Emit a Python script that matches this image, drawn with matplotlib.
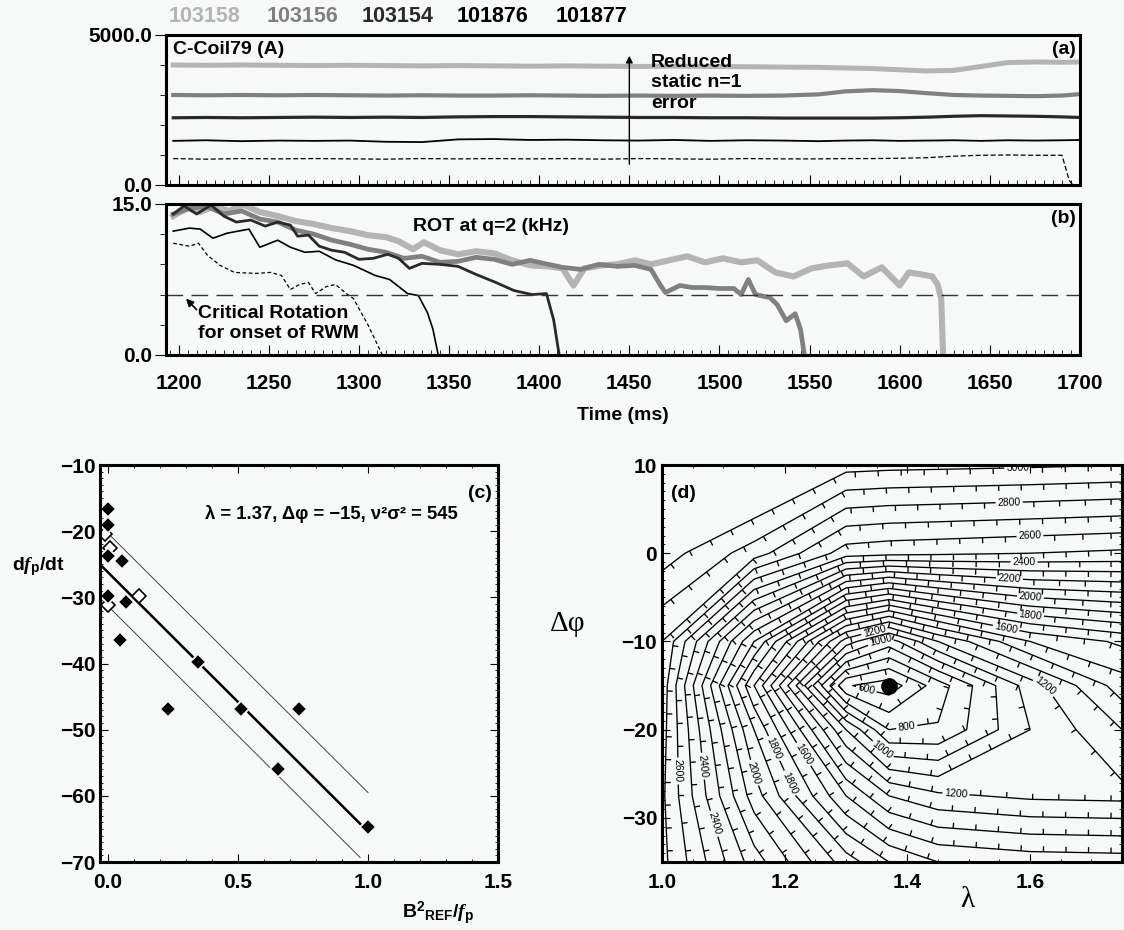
import matplotlib
matplotlib.use('Agg')
import matplotlib.pyplot as plt
import matplotlib.patheffects as pe
from matplotlib.ticker import MultipleLocator, FixedLocator
import numpy as np

plt.rcParams['font.family'] = ['Liberation Sans', 'DejaVu Sans']
plt.rcParams['font.weight'] = 'bold'
plt.rcParams['axes.labelweight'] = 'bold'
plt.rcParams['axes.unicode_minus'] = True
plt.rcParams['mathtext.fontset'] = 'custom'
plt.rcParams['mathtext.rm'] = 'Liberation Sans:bold'
plt.rcParams['mathtext.bf'] = 'Liberation Sans:bold'
plt.rcParams['mathtext.it'] = 'Liberation Serif:italic:bold'

# shot numbers in the header above panel (a)
shots = ['103158', '103156', '103154', '101876', '101877']

# (a) C-coil current (A) vs time (ms)
coil_t = [1197, 1215, 1235, 1255, 1275, 1295, 1315, 1335, 1355, 1375, 1395, 1415,
          1435, 1455, 1475, 1495, 1515, 1535, 1555, 1570, 1585, 1600, 1615, 1630,
          1645, 1660, 1675, 1690, 1700]
coil_103158 = [4000, 3990, 4000, 3990, 3980, 3990, 3980, 3970, 3980, 3970, 3960, 3970,
               3960, 3950, 3960, 3950, 3940, 3930, 3920, 3900, 3880, 3840, 3800, 3820,
               3950, 4080, 4100, 4090, 4100]
coil_103156 = [3000, 2990, 3000, 2990, 3000, 2990, 2980, 2990, 2980, 2980, 2990, 2980,
               2970, 2980, 2970, 2980, 2970, 2980, 3020, 3120, 3160, 3130, 3060, 3000,
               2980, 2970, 2960, 2980, 3030]
coil_103154 = [2240, 2250, 2240, 2250, 2260, 2250, 2260, 2250, 2270, 2280, 2280, 2270,
               2260, 2250, 2250, 2240, 2240, 2230, 2230, 2230, 2230, 2240, 2260, 2290,
               2310, 2300, 2290, 2270, 2250]
coil_101876 = [1470, 1490, 1460, 1480, 1470, 1480, 1440, 1430, 1520, 1530, 1500, 1510,
               1490, 1480, 1500, 1470, 1490, 1480, 1460, 1480, 1490, 1470, 1480, 1490,
               1470, 1490, 1480, 1490, 1500]
coil_t_101877 = [1197, 1215, 1235, 1255, 1275, 1295, 1315, 1335, 1355, 1375, 1395, 1415,
                 1435, 1455, 1475, 1495, 1515, 1535, 1555, 1570, 1585, 1600, 1615, 1630,
                 1645, 1660, 1675, 1690, 1694, 1696]
coil_101877 = [880, 860, 880, 870, 880, 870, 860, 880, 870, 880, 870, 880,
               860, 880, 870, 860, 880, 870, 870, 880, 880, 890, 910, 960,
               990, 1000, 990, 990, 150, 0]

# (b) rotation at q=2 (kHz) vs time (ms)
rot_t_103158 = [1197, 1205, 1212, 1220, 1228, 1236, 1245, 1255, 1265, 1275, 1285, 1295,
                1305, 1315, 1322, 1330, 1336, 1345, 1355, 1365, 1375, 1385, 1395, 1405,
                1413, 1419, 1425, 1435, 1443, 1453, 1462, 1472, 1482, 1492, 1502, 1512,
                1521, 1531, 1541, 1551, 1561, 1571, 1580, 1590, 1600, 1605, 1612, 1618,
                1621, 1623, 1624]
rot_103158 = [13.8, 14.6, 14.2, 14.8, 14.3, 14.9, 14.2, 13.8, 13.3, 13.0, 12.6, 12.3,
              11.9, 11.7, 11.3, 10.5, 11.2, 10.4, 10.0, 10.3, 10.1, 9.4, 8.9, 8.8,
              8.6, 6.9, 8.6, 8.9, 9.0, 9.4, 9.0, 9.4, 9.8, 9.2, 9.6, 9.2,
              9.4, 8.2, 7.8, 8.6, 8.9, 9.1, 7.8, 8.7, 6.9, 8.2, 8.0, 7.8,
              7.0, 5.6, 0.1]
rot_t_103156 = [1197, 1205, 1215, 1225, 1235, 1245, 1255, 1265, 1275, 1285, 1295, 1305,
                1315, 1325, 1335, 1345, 1355, 1365, 1375, 1385, 1395, 1405, 1413, 1423,
                1433, 1443, 1453, 1462, 1467, 1470, 1478, 1485, 1492, 1500, 1508, 1512,
                1516, 1520, 1528, 1532, 1537, 1542, 1545, 1547]
rot_103156 = [14.0, 14.5, 14.8, 14.0, 14.3, 13.5, 13.2, 12.4, 12.0, 11.4, 11.0, 10.5,
              10.2, 9.6, 9.8, 9.2, 9.3, 9.7, 9.5, 9.0, 9.4, 9.0, 8.7, 8.5,
              9.0, 8.8, 8.9, 8.5, 7.0, 6.2, 6.9, 6.7, 6.7, 6.6, 6.6, 6.0,
              7.5, 6.0, 5.7, 5.0, 3.4, 4.1, 2.5, 0.1]
rot_t_103154 = [1197, 1203, 1210, 1218, 1225, 1232, 1240, 1248, 1255, 1262, 1266, 1272,
                1278, 1285, 1292, 1300, 1308, 1316, 1322, 1328, 1335, 1345, 1355, 1365,
                1376, 1386, 1396, 1404, 1408, 1411]
rot_103154 = [14.0, 14.8, 14.0, 14.9, 13.8, 13.2, 13.4, 12.8, 13.2, 12.9, 11.8, 11.9,
              10.8, 10.4, 10.2, 9.5, 9.6, 10.0, 9.6, 8.6, 9.1, 9.0, 8.8, 8.0,
              7.2, 6.4, 6.0, 6.1, 3.5, 0.1]
rot_t_101876 = [1197, 1206, 1212, 1219, 1227, 1239, 1245, 1255, 1262, 1270, 1278, 1287,
                1297, 1309, 1317, 1327, 1333, 1338, 1341, 1344]
rot_101876 = [12.3, 12.6, 12.5, 11.6, 12.1, 12.5, 10.7, 11.4, 10.7, 10.2, 10.3, 9.45,
              8.9, 7.9, 7.5, 6.1, 5.9, 4.2, 2.6, 0.0]
rot_t_101877 = [1197, 1206, 1211, 1216, 1223, 1231, 1243, 1251, 1257, 1262, 1267, 1272,
                1276, 1282, 1287, 1293, 1297, 1301, 1305, 1309, 1313]
rot_101877 = [11.1, 10.8, 11.1, 9.9, 8.9, 8.2, 8.1, 8.2, 7.9, 6.5, 7.0, 7.2,
              6.1, 6.8, 7.0, 6.1, 5.6, 4.3, 3.0, 1.5, 0.0]
critical_rot = 6.0

# (c) dfp/dt vs B^2_REF/fp
bsq_filled = [0.0, 0.0, 0.0, 0.056, 0.0, 0.071, 0.048, 0.345, 0.23, 0.51, 0.733, 0.654, 1.0]
dfdt_filled = [-16.6, -19.1, -23.7, -24.5, -29.8, -30.7, -36.4, -39.7, -46.8, -46.8, -46.8, -56.0, -64.7]
bsq_open = [-0.01, 0.01, 0.12, 0.0]
dfdt_open = [-20.5, -22.5, -29.8, -31.2]
fit_slope = -39.2
fit_offsets = [-26.2, -20.3, -31.3]   # best fit, upper and lower bound
fit_x_end = [0.98, 1.0, 0.97]

# (d) chi^2 surface over (lambda, delta phi)
lam_nodes = [1.0, 1.15, 1.3, 1.37, 1.45, 1.6, 1.75]
dphi_nodes = [-35, -27.5, -20, -15, -10, 0, 10]
chi2 = [
    [2730, 2250, 1850, 1700, 1600, 1560, 1550],
    [2720, 2050, 1500, 1300, 1220, 1180, 1170],
    [2740, 1900, 1100, 800, 810, 1100, 1300],
    [2760, 1700, 610, 545, 750, 1150, 1450],
    [2800, 2000, 1150, 950, 1200, 1500, 1620],
    [3050, 2850, 2550, 2530, 2520, 2500, 2480],
    [3400, 3230, 3040, 3030, 3025, 3015, 3000],
]
chi2_levels = list(range(600, 3100, 100))
best_fit = (1.37, -15)
label_levels = [600, 800, 1000, 1200, 1400, 1600, 1800, 2000, 2200, 2400, 2600, 2800, 3000]
label_pos = [(1.33, -16.2), (1.40, -20.2), (1.36, -22.3), (1.48, -26.4), (1.64, -14.2),
             (1.24, -22.4), (1.19, -21.9), (1.20, -26.3), (1.138, -25.1), (1.086, -24.0),
             (1.078, -30.8), (1.01, -24.7),
             (1.356, -9.8), (1.345, -8.5), (1.56, -8.8), (1.6, -7.6), (1.6, -5.7),
             (1.566, -3.2), (1.59, -1.3), (1.6, 1.5), (1.566, 5.3), (1.58, 9.5)]

bg = '#f7f8f8'
shot_colors = ['#b4b4b4', '#808080', '#2a2a2a', 'black', 'black']
fs = 14
fs_tick = 15

fig = plt.figure(figsize=(11.24, 9.3), dpi=100, facecolor=bg)
ax_a = fig.add_axes([0.1477, 0.8011, 0.8132, 0.1613])
ax_b = fig.add_axes([0.1477, 0.6183, 0.8132, 0.1624])
ax_c = fig.add_axes([0.0890, 0.0731, 0.3541, 0.4269])
ax_d = fig.add_axes([0.5890, 0.0731, 0.4093, 0.4269])

for ax in [ax_a, ax_b, ax_c, ax_d]:
    ax.set_facecolor(bg)
    for s in ax.spines.values():
        s.set_linewidth(2.2)
    ax.tick_params(labelsize=fs_tick)

# header with shot numbers
for name, col, xp in zip(shots, shot_colors, [205, 302, 398, 493, 592]):
    fig.text(xp / 1124, 1 - 16 / 930, name, color=col, fontsize=15.5, ha='center', va='center')

# ---- (a)
ax_a.plot(coil_t, coil_103158, color=shot_colors[0], lw=3.6)
ax_a.plot(coil_t, coil_103156, color=shot_colors[1], lw=3.0)
ax_a.plot(coil_t, coil_103154, color=shot_colors[2], lw=2.3)
ax_a.plot(coil_t, coil_101876, color='black', lw=1.3)
ax_a.plot(coil_t_101877, coil_101877, color='black', lw=0.9, ls=(0, (4, 2)))
ax_a.set_xlim(1193, 1700)
ax_a.set_ylim(0, 5000)
ax_a.yaxis.set_major_locator(FixedLocator([0, 5000]))
ax_a.set_yticklabels(['0.0', '5000.0'])
ax_a.yaxis.set_minor_locator(MultipleLocator(1000))
ax_a.xaxis.set_major_locator(MultipleLocator(50))
ax_a.xaxis.set_minor_locator(MultipleLocator(5))
ax_a.tick_params(axis='y', which='both', direction='out', pad=2)
ax_a.tick_params(axis='y', which='major', length=8)
ax_a.tick_params(axis='y', which='minor', length=4)
ax_a.tick_params(axis='x', which='both', direction='in', labelbottom=False)
ax_a.tick_params(axis='x', which='major', length=7)
ax_a.tick_params(axis='x', which='minor', length=3.5)
ax_a.text(0.008, 0.96, 'C-Coil79 (A)', transform=ax_a.transAxes, fontsize=fs, va='top')
ax_a.text(0.995, 0.96, '(a)', transform=ax_a.transAxes, fontsize=fs, va='top', ha='right')
ax_a.annotate('', xy=(1450, 4400), xytext=(1450, 600),
              arrowprops=dict(arrowstyle='-|>', lw=1, color='black', mutation_scale=10))
ax_a.text(1462, 4380, 'Reduced\nstatic n=1\nerror', fontsize=fs, va='top', ha='left',
          linespacing=1.3)

# ---- (b)
ax_b.plot(rot_t_103158, rot_103158, color=shot_colors[0], lw=4.4)
ax_b.plot(rot_t_103156, rot_103156, color=shot_colors[1], lw=3.4)
ax_b.plot(rot_t_103154, rot_103154, color=shot_colors[2], lw=2.0)
ax_b.plot(rot_t_101876, rot_101876, color='black', lw=1.2)
ax_b.plot(rot_t_101877, rot_101877, color='black', lw=0.9, ls=(0, (3, 2)))
ax_b.axhline(critical_rot, color='#333333', lw=1.0, ls=(0, (12, 6)))
ax_b.set_xlim(1193, 1700)
ax_b.set_ylim(0, 15)
ax_b.yaxis.set_major_locator(FixedLocator([0, 15]))
ax_b.set_yticklabels(['0.0', '15.0'])
ax_b.yaxis.set_minor_locator(MultipleLocator(3))
ax_b.xaxis.set_major_locator(MultipleLocator(50))
ax_b.xaxis.set_minor_locator(MultipleLocator(5))
ax_b.tick_params(axis='y', which='both', direction='out', pad=2)
ax_b.tick_params(axis='y', which='major', length=8)
ax_b.tick_params(axis='y', which='minor', length=4)
ax_b.tick_params(axis='x', which='both', direction='in')
ax_b.tick_params(axis='x', which='major', length=7, pad=14)
ax_b.tick_params(axis='x', which='minor', length=3.5)
ax_b.set_xlabel('Time (ms)', fontsize=fs, labelpad=10)
ax_b.text(1373, 12.8, 'ROT at q=2 (kHz)', fontsize=fs, ha='center', va='center')
ax_b.text(0.995, 0.96, '(b)', transform=ax_b.transAxes, fontsize=fs, va='top', ha='right')
ax_b.annotate('', xy=(1203, 5.8), xytext=(1211, 4.3),
              arrowprops=dict(arrowstyle='-|>', lw=1.2, color='black', mutation_scale=11))
ax_b.text(1211, 5.0, 'Critical Rotation\nfor onset of RWM', fontsize=fs, va='top', ha='left',
          linespacing=1.25)

# ---- (c)
for off, xe, lw, col in zip(fit_offsets, fit_x_end, [1.8, 0.7, 0.7], ['black', '#444444', '#444444']):
    xs = np.array([-0.03, xe])
    ax_c.plot(xs, off + fit_slope * xs, color=col, lw=lw)
ax_c.plot(bsq_open, dfdt_open, 'D', ms=7.5, mfc='white', mec='black', mew=1.2)
ax_c.plot(bsq_filled, dfdt_filled, 'D', ms=8, mfc='black', mec=bg, mew=1.3)
ax_c.set_xlim(-0.03, 1.5)
ax_c.set_ylim(-70, -10)
ax_c.xaxis.set_major_locator(FixedLocator([0, 0.5, 1.0, 1.5]))
ax_c.set_xticklabels(['0.0', '0.5', '1.0', '1.5'])
ax_c.xaxis.set_minor_locator(MultipleLocator(0.1))
ax_c.yaxis.set_major_locator(MultipleLocator(10))
ax_c.yaxis.set_minor_locator(MultipleLocator(1))
ax_c.tick_params(which='both', direction='in', top=True, right=True)
ax_c.tick_params(which='major', length=6)
ax_c.tick_params(which='minor', length=2.5)
ax_c.tick_params(axis='x', which='major', pad=8)
ax_c.tick_params(axis='y', which='major', pad=3)
ax_c.text(0.86, -17.4, 'λ = 1.37, Δφ = −15, ν²σ² = 545', fontsize=13.3, ha='center', va='center')
ax_c.text(0.985, 0.95, '(c)', transform=ax_c.transAxes, fontsize=fs, ha='right', va='top')
ax_c.set_ylabel(r'd$\mathit{f}_{\mathrm{p}}$/dt', fontsize=fs, rotation=0, ha='center', va='center')
ax_c.yaxis.set_label_coords(-0.155, 0.745)
ax_c.set_xlabel(r'B$^{\mathrm{2}}$$_{\mathrm{REF}}$/$\mathit{f}_{\mathrm{p}}$', fontsize=fs,
                ha='center', va='center')
ax_c.xaxis.set_label_coords(0.85, -0.13)

# ---- (d)
ticked = [pe.withTickedStroke(angle=-90, spacing=16, length=0.25)]
plain_levels = [lv for lv in chi2_levels if lv not in label_levels]
cs = ax_d.contour(lam_nodes, dphi_nodes, chi2, levels=plain_levels, colors='black', linewidths=0.95)
cs.set(path_effects=ticked)
cs_lab = ax_d.contour(lam_nodes, dphi_nodes, chi2, levels=label_levels, colors='black', linewidths=0.95)
cs_lab.set(path_effects=ticked)
lbls = cs_lab.clabel(manual=label_pos, inline=True, fontsize=7.5, fmt='%d', inline_spacing=2)
for t in lbls:
    t.set_fontweight('normal')
ax_d.plot(best_fit[0], best_fit[1], 'o', ms=11, color='black')
ax_d.set_xlim(1.0, 1.75)
ax_d.set_ylim(-35, 10)
ax_d.xaxis.set_major_locator(MultipleLocator(0.2))
ax_d.xaxis.set_minor_locator(MultipleLocator(0.05))
ax_d.yaxis.set_major_locator(MultipleLocator(10))
ax_d.yaxis.set_minor_locator(MultipleLocator(1))
ax_d.tick_params(which='both', direction='in', top=True, right=True)
ax_d.tick_params(which='major', length=6)
ax_d.tick_params(which='minor', length=2.5)
ax_d.tick_params(axis='x', which='major', pad=8)
ax_d.text(0.02, 0.95, '(d)', transform=ax_d.transAxes, fontsize=fs, ha='left', va='top')
ax_d.set_xlabel('λ', fontsize=21, family='Liberation Serif', fontweight='normal', va='center')
ax_d.xaxis.set_label_coords(0.663, -0.095)
ax_d.set_ylabel('Δφ', fontsize=21, family='Liberation Serif', fontweight='normal', rotation=0,
                va='center', ha='center')
ax_d.yaxis.set_label_coords(-0.205, 0.60)

fig.savefig('out.png', dpi=100, facecolor=bg)
